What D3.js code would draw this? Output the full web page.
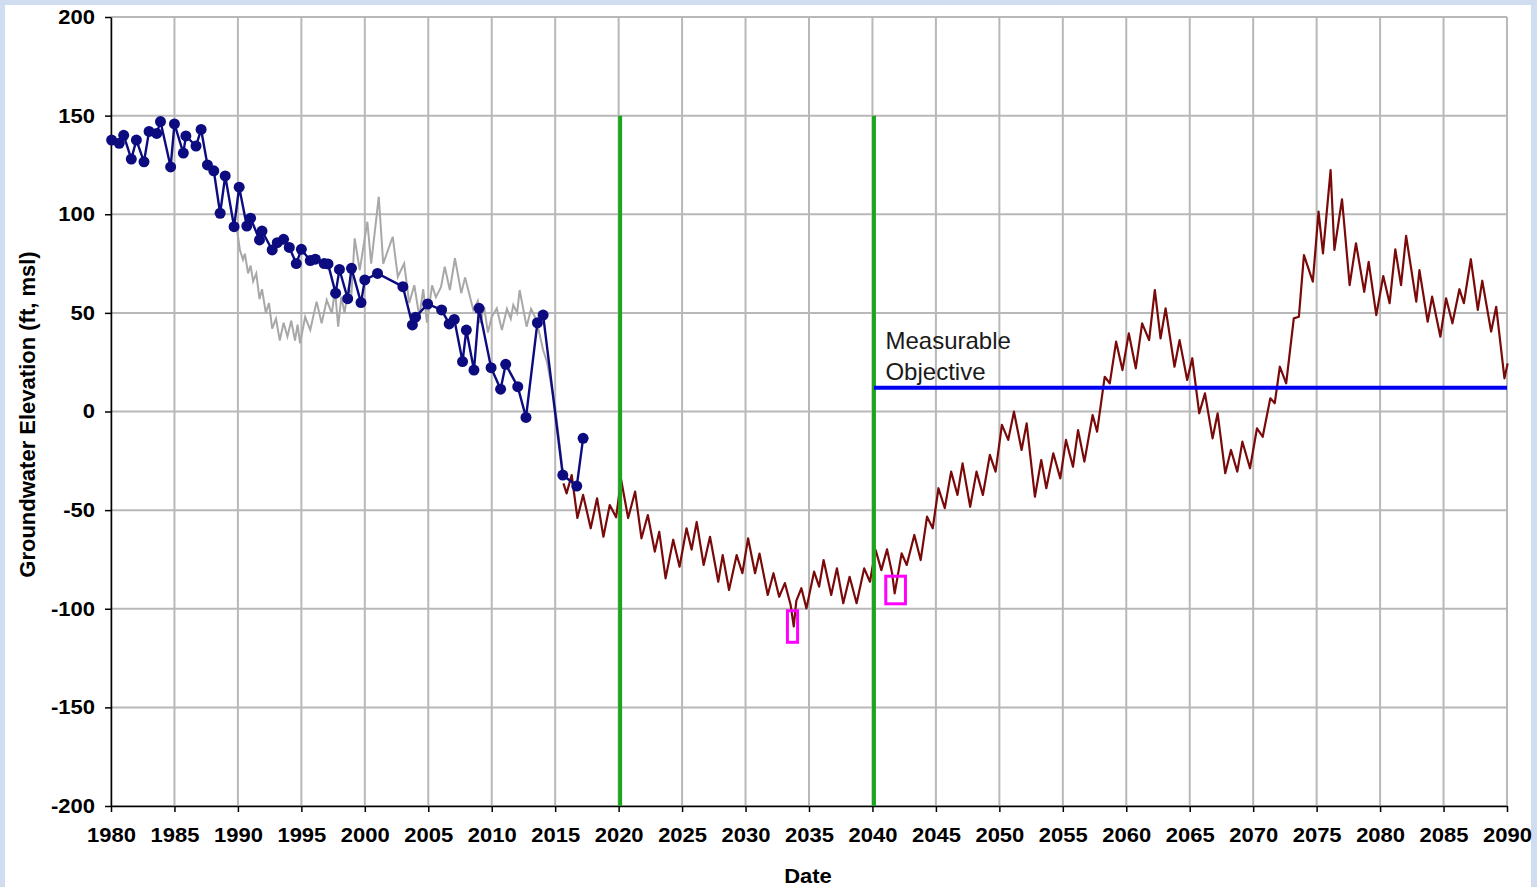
<!DOCTYPE html>
<html>
<head>
<meta charset="utf-8">
<script src="https://cdn.jsdelivr.net/npm/d3@7"></script>
<style>
  body { margin: 0; background: #d0dcf0; }
  svg { display: block; font-family: "Liberation Sans", Arial, sans-serif; }
</style>
</head>
<body>
<div id="chart"></div>
<script>
// observed wells (blue points)
var obsYears = [1980.05, 1980.65, 1981.0, 1981.6, 1982.0, 1982.6, 1983.0, 1983.6, 1983.9, 1984.7,
  1985.0, 1985.7, 1985.9, 1986.7, 1987.1, 1987.6, 1988.1, 1988.6, 1989.0, 1989.7,
  1990.1, 1990.7, 1991.0, 1991.7, 1991.9, 1992.7, 1993.1, 1993.6, 1994.05, 1994.6,
  1995.0, 1995.7, 1996.1, 1996.8, 1997.1, 1997.7, 1998.0, 1998.65, 1998.95, 1999.7,
  2000.0, 2001.0, 2003.0, 2003.75, 2004.0, 2004.95, 2006.05, 2006.65, 2007.05, 2007.7,
  2008.0, 2008.6, 2009.0, 2009.95, 2010.7, 2011.1, 2012.05, 2012.7, 2013.6, 2014.05,
  2015.6, 2016.7, 2017.2];
var obsValues = [137.6, 136, 140, 128, 137.6, 126.6, 142, 141, 147, 124,
  145.8, 131, 139.7, 134.6, 143, 125, 122, 100.5, 119.4, 93.7,
  113.7, 94, 98, 87, 91.5, 81.9, 85.6, 87.3, 83.2, 75,
  82.2, 76.5, 77.2, 75, 74.8, 60, 72, 57.2, 72.6, 55.2,
  66.7, 70, 63.3, 43.9, 47.8, 54.5, 51.5, 44.4, 46.7, 25.3,
  41.3, 21, 52.3, 22.2, 11.3, 23.9, 12.6, -3, 45, 48.9,
  -32.2, -37.8, -13.6];

// model calibration (gray line)
var simYears = [1989.9, 1990.15, 1990.4, 1990.55, 1990.8, 1991.0, 1991.2, 1991.45, 1991.7, 1991.9,
  1992.2, 1992.45, 1992.7, 1993.0, 1993.3, 1993.6, 1993.9, 1994.2, 1994.5, 1994.7,
  1994.9, 1995.3, 1995.7, 1996.2, 1996.6, 1997.0, 1997.4, 1997.65, 1997.9, 1998.15,
  1998.4, 1998.7, 1998.95, 1999.2, 1999.6, 2000.2, 2000.5, 2001.1, 2001.45, 2002.2,
  2002.6, 2003.1, 2003.5, 2003.9, 2004.3, 2004.6, 2004.9, 2005.3, 2005.6, 2006.0,
  2006.3, 2006.7, 2007.1, 2007.6, 2007.9, 2008.15, 2008.55, 2008.9, 2009.1, 2009.4,
  2009.7, 2010.0, 2010.4, 2010.8, 2011.2, 2011.5, 2011.7, 2012.0, 2012.2, 2012.75,
  2013.1, 2013.4, 2013.7, 2014.05, 2014.35, 2015.0, 2015.6];
var simValues = [93.7, 82, 77, 80, 70, 74, 66, 70, 57, 62,
  50, 55, 42, 47, 36, 45, 38, 46, 36, 44,
  34.6, 48, 41.3, 55.7, 44.7, 56.5, 49.8, 61.6, 43, 58.2,
  50, 62, 60, 87.8, 71.7, 96.2, 75, 108.9, 75, 88.6,
  68.3, 75, 55, 64, 48, 62, 45, 64, 58, 63,
  73.4, 61.6, 77.7, 60, 68, 61.6, 51.5, 56, 44.7, 53,
  40, 48, 52.3, 41.3, 52, 47, 54, 50, 61.6, 43,
  52, 48, 41.3, 31.2, 25.3, 2.4, -30.5];

// projection (dark red line)
var projYears = [2015.65, 2015.9, 2016.3, 2016.75, 2017.2, 2017.8, 2018.3, 2018.8, 2019.3, 2019.8,
  2020.2, 2020.75, 2021.3, 2021.8, 2022.3, 2022.85, 2023.2, 2023.7, 2024.3, 2024.8,
  2025.35, 2025.75, 2026.15, 2026.7, 2027.2, 2027.85, 2028.2, 2028.7, 2029.3, 2029.75,
  2030.2, 2030.75, 2031.1, 2031.75, 2032.2, 2032.65, 2033.1, 2033.55, 2033.8, 2034.0,
  2034.4, 2034.8, 2035.4, 2035.8, 2036.15, 2036.75, 2037.2, 2037.7, 2038.2, 2038.75,
  2039.35, 2039.8, 2040.25, 2040.7, 2041.15, 2041.55, 2041.75, 2042.3, 2042.7, 2043.3,
  2043.8, 2044.3, 2044.75, 2045.2, 2045.7, 2046.2, 2046.7, 2047.1, 2047.7, 2048.2,
  2048.7, 2049.25, 2049.7, 2050.2, 2050.7, 2051.15, 2051.75, 2052.15, 2052.8, 2053.3,
  2053.7, 2054.25, 2054.8, 2055.25, 2055.8, 2056.2, 2056.7, 2057.35, 2057.7, 2058.3,
  2058.7, 2059.2, 2059.7, 2060.2, 2060.75, 2061.25, 2061.8, 2062.25, 2062.7, 2063.1,
  2063.8, 2064.2, 2064.8, 2065.2, 2065.75, 2066.2, 2066.8, 2067.2, 2067.8, 2068.25,
  2068.75, 2069.15, 2069.75, 2070.3, 2070.75, 2071.35, 2071.7, 2072.1, 2072.6, 2073.2,
  2073.6, 2074.0, 2074.7, 2075.15, 2075.5, 2076.1, 2076.4, 2077.0, 2077.6, 2078.1,
  2078.75, 2079.1, 2079.7, 2080.25, 2080.75, 2081.2, 2081.65, 2082.05, 2082.85, 2083.1,
  2083.75, 2084.1, 2084.75, 2085.2, 2085.7, 2086.25, 2086.6, 2087.15, 2087.7, 2088.05,
  2088.75, 2089.15, 2089.8, 2090.05];
var projValues = [-36.4, -41.5, -32.2, -54, -42.3, -59.2, -44, -63.5, -47.4, -53.6,
  -34.7, -54, -40.6, -64.3, -52.5, -71, -61, -84.6, -65, -78.7,
  -59.2, -70, -56, -77.8, -63.5, -86.3, -72.8, -90.5, -72.8, -82,
  -64.3, -82, -72, -93, -82, -93.9, -87, -98, -109, -96,
  -89.6, -99.8, -81.2, -88.8, -75.3, -93, -79.5, -97.2, -83.8, -97.2,
  -79.5, -86.3, -70.2, -80.4, -69.9, -82, -92.2, -71.9, -77.8, -62.6,
  -75.3, -53.3, -59.2, -38.9, -49, -30.5, -42.3, -26.3, -48.3, -30.5,
  -42.3, -22, -30.5, -6.8, -14.4, -0.1, -19.5, -6, -43.2, -24.6,
  -38.9, -21.2, -33.9, -14.4, -28, -9.4, -25.4, -1.8, -10.2, 17.6,
  14.3, 35.4, 21, 39.6, 21.9, 44.7, 36.2, 61.6, 37.1, 52.3,
  22.7, 36.2, 16, 27, -0.9, 9.2, -13.6, -0.9, -31.3, -19.5,
  -30.5, -15.3, -28.8, -8.5, -12.8, 6.7, 4.2, 22.7, 14.3, 47.2,
  48, 79.3, 65.8, 101.3, 80.2, 122.4, 81.9, 107.6, 64.1, 85.3,
  60.7, 75.9, 48.9, 68.7, 54.9, 82.2, 64.1, 89, 55.7, 71.7,
  45.5, 58.2, 37.9, 57.4, 44.7, 62, 54.9, 77.2, 51.5, 66.3,
  40.5, 53.1, 16.8, 24.4];

var milestoneYears = [2020, 2040];
var milestoneTop = 150;
var objectiveValue = 12;
var objectiveStart = 2040;
var objectiveLabel = ["Measurable", "Objective"];
// highlighted minima [year0, year1, value0, value1]
var highlightBoxes = [[2033.3, 2034.1, -101, -117], [2041.05, 2042.6, -83.5, -97.5]];

var xTicks = d3.range(1980, 2091, 5);
var yTicks = d3.range(-200, 201, 50);

var W = 1537, H = 887;
var margin = { left: 111, right: 30, top: 17, bottom: 81 };
var width = W - margin.left - margin.right;
var height = H - margin.top - margin.bottom;
var stretch = 1.1;

var x = d3.scaleLinear().domain([1980, 2090]).range([0, width]);
var y = d3.scaleLinear().domain([-200, 200]).range([height, 0]);

var root = d3.select("#chart").append("svg").attr("width", W).attr("height", H);
root.append("rect").attr("width", W).attr("height", H).attr("fill", "#d0dcf0");
root.append("rect").attr("x", 5).attr("y", 5).attr("width", W - 11).attr("height", H - 5).attr("fill", "#ffffff");

var svg = root.append("g")
  .attr("transform", "translate(" + margin.left + "," + margin.top + ")");

// grid
svg.append("g").selectAll("line").data(xTicks).enter().append("line")
  .attr("x1", function (d) { return x(d); })
  .attr("x2", function (d) { return x(d); })
  .attr("y1", 0).attr("y2", height)
  .attr("stroke", "#b8b8b8").attr("stroke-width", 2);
svg.append("g").selectAll("line").data(yTicks).enter().append("line")
  .attr("y1", function (d) { return y(d); })
  .attr("y2", function (d) { return y(d); })
  .attr("x1", 0).attr("x2", width)
  .attr("stroke", "#b8b8b8").attr("stroke-width", 2);

// axes
var plain = function (d) { return String(d); };
var xAxis = d3.axisBottom(x).tickValues(xTicks).tickFormat(plain).tickSizeInner(6).tickSizeOuter(0);
var yAxis = d3.axisLeft(y).tickValues(yTicks).tickFormat(plain).tickSizeInner(6).tickSizeOuter(0);

var gx = svg.append("g").attr("transform", "translate(0," + height + ")").call(xAxis);
gx.select(".domain").attr("stroke", "#000").attr("stroke-width", 1.5);
gx.selectAll(".tick line").attr("stroke", "#000").attr("stroke-width", 1.5);
gx.selectAll("text")
  .attr("y", 22).attr("dy", "0.71em")
  .attr("transform", "scale(" + stretch + ",1)")
  .style("font-size", "20px").style("font-weight", "bold").attr("fill", "#000");

var gy = svg.append("g").call(yAxis);
gy.select(".domain").attr("stroke", "#000").attr("stroke-width", 1.5);
gy.selectAll(".tick line").attr("stroke", "#000").attr("stroke-width", 1.5);
gy.selectAll("text")
  .attr("x", -16 / stretch)
  .attr("transform", "scale(" + stretch + ",1)")
  .style("font-size", "20px").style("font-weight", "bold").attr("fill", "#000");

// axis titles
svg.append("text")
  .attr("transform", "translate(" + (808 - margin.left) + "," + (883 - margin.top) + ") scale(" + stretch + ",1)")
  .style("text-anchor", "middle").style("font-weight", "bold").style("font-size", "20px")
  .text("Date");

svg.append("text")
  .attr("transform", "translate(" + (35 - margin.left) + "," + (height / 2 + 3) + ") rotate(-90)")
  .style("text-anchor", "middle").style("font-weight", "bold").style("font-size", "22px")
  .text("Groundwater Elevation (ft, msl)");

var line = d3.line()
  .x(function (d) { return x(d[0]); })
  .y(function (d) { return y(d[1]); });

var simData = d3.zip(simYears, simValues);
var obsData = d3.zip(obsYears, obsValues);
var projData = d3.zip(projYears, projValues);

svg.append("path").datum(simData).attr("d", line)
  .attr("fill", "none").attr("stroke", "#a8a8a8").attr("stroke-width", 2);

svg.append("path").datum(projData).attr("d", line)
  .attr("fill", "none").attr("stroke", "#7a0a0a").attr("stroke-width", 2.2)
  .attr("stroke-linejoin", "round");

svg.append("path").datum(obsData).attr("d", line)
  .attr("fill", "none").attr("stroke", "#0c0c80").attr("stroke-width", 2.4);

svg.selectAll(".obs").data(obsData).enter().append("circle")
  .attr("class", "obs")
  .attr("cx", function (d) { return x(d[0]); })
  .attr("cy", function (d) { return y(d[1]); })
  .attr("r", 5.5)
  .attr("fill", "#0c0c80");

// milestone lines
svg.selectAll(".milestone").data(milestoneYears).enter().append("line")
  .attr("class", "milestone")
  .attr("x1", function (d) { return x(d) + 1.5; })
  .attr("x2", function (d) { return x(d) + 1.5; })
  .attr("y1", y(milestoneTop)).attr("y2", height)
  .attr("stroke", "#1ea51e").attr("stroke-width", 4);

// measurable objective
svg.append("line")
  .attr("x1", x(objectiveStart) + 1.5).attr("x2", width)
  .attr("y1", y(objectiveValue)).attr("y2", y(objectiveValue))
  .attr("stroke", "#0000f0").attr("stroke-width", 4);

svg.append("g").selectAll("text").data(objectiveLabel).enter().append("text")
  .attr("x", x(objectiveStart) + 13)
  .attr("y", function (d, i) { return y(objectiveValue) - 39 + i * 31; })
  .style("font-size", "24px").attr("fill", "#1a1a1a")
  .text(function (d) { return d; });

// highlight boxes
svg.selectAll(".hl").data(highlightBoxes).enter().append("rect")
  .attr("class", "hl")
  .attr("x", function (d) { return x(d[0]); })
  .attr("width", function (d) { return x(d[1]) - x(d[0]); })
  .attr("y", function (d) { return y(d[2]); })
  .attr("height", function (d) { return y(d[3]) - y(d[2]); })
  .attr("fill", "none").attr("stroke", "#ff00ff").attr("stroke-width", 3);
</script>
</body>
</html>
